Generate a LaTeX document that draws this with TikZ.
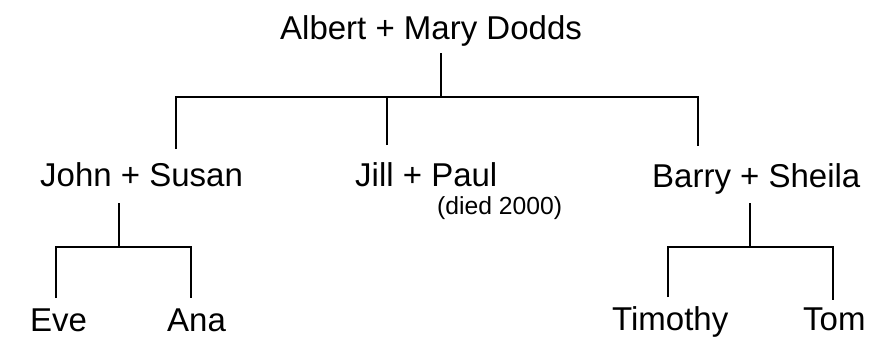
\documentclass[tikz,border=0pt]{standalone}
\usepackage{fontspec}
\setmainfont{Liberation Sans}
\begin{document}
\begin{tikzpicture}[x=1pt,y=-1pt,
  person/.style={inner sep=0pt, anchor=base west, font=\fontsize{33}{40}\selectfont},
  note/.style={inner sep=0pt, anchor=base west, font=\fontsize{24.7}{30}\selectfont},
  link/.style={line width=1.7pt, black}]
\useasboundingbox (0,0) rectangle (871,338);
% people
\node[person] (albert) at (280,39) {Albert + Mary Dodds};
\node[person] (john) at (40,186) {John + Susan};
\node[person] (jill) at (355,186) {Jill + Paul};
\node[person] (barry) at (652,187) {Barry + Sheila};
\node[note] (died) at (437,214) {(died 2000)};
\node[person] (eve) at (30,331) {Eve};
\node[person] (ana) at (167,331) {Ana};
\node[person] (timothy) at (612,330) {Timothy};
\node[person] (tom) at (803,330) {Tom};
% junction points
\coordinate (a1) at (441,53);
\coordinate (a2) at (441,97);
\coordinate (c1) at (176,149);
\coordinate (c2) at (387,145);
\coordinate (c3) at (698,146);
\coordinate (j1) at (119,203);
\coordinate (j2) at (119,247);
\coordinate (e1) at (56,298);
\coordinate (n1) at (191,298);
\coordinate (b1) at (750,203);
\coordinate (b2) at (750,247);
\coordinate (t1) at (668,297);
\coordinate (t2) at (833,300);
% connectors
\draw[link] (a1) -- (a2);
\draw[link] (c1) |- (a2) -| (c3);
\draw[link] (c2) -- (c2 |- a2);
\draw[link] (j1) -- (j2);
\draw[link] (e1) |- (j2) -| (n1);
\draw[link] (b1) -- (b2);
\draw[link] (t1) |- (b2) -| (t2);
\end{tikzpicture}
\end{document}
